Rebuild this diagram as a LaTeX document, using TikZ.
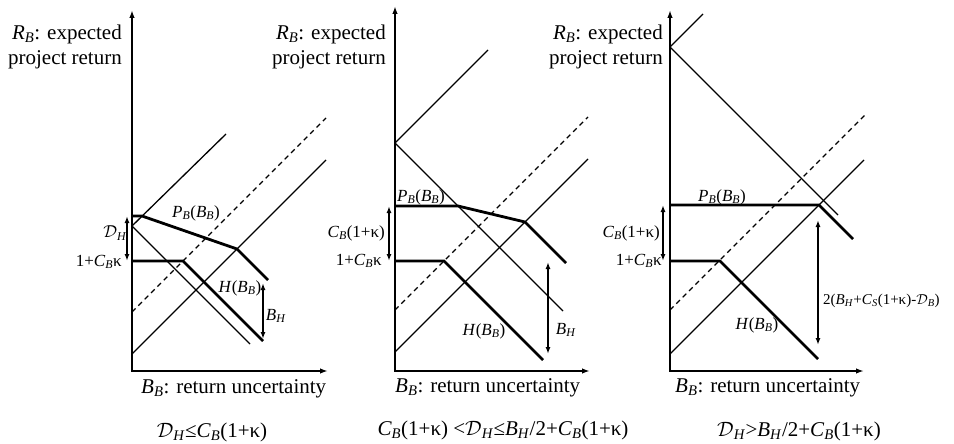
\documentclass[tikz,border=0pt]{standalone}
\usepackage{fontspec}
\setmainfont{Liberation Serif}
\usetikzlibrary{arrows.meta}
\newcommand\ivar[2]{\textit{#1}\textsubscript{\textit{#2}}}
\newcommand\scD{$\mathcal{D}$}
\tikzset{
 axisln/.style={line width=2.2pt,{Latex[length=8pt,width=5.5pt]}-{Latex[length=8pt,width=5.5pt]}},
 thinln/.style={line width=1.3pt},
 dashln/.style={line width=1.3pt,dash pattern=on 5pt off 4pt},
 curveln/.style={line width=2.8pt,line join=miter},
 dimln/.style={line width=1.4pt,{Latex[length=7pt,width=5pt]}-{Latex[length=7pt,width=5pt]}},
 bigtxt/.style={font=\fontsize{21}{25}\selectfont,inner sep=0pt},
 smalltxt/.style={font=\fontsize{17}{19}\selectfont,inner sep=0pt},
}
\begin{document}
\begin{tikzpicture}[x=1pt,y=-1pt]
\useasboundingbox (0,0) rectangle (954,444);
% ---------------- panel 1
\coordinate (o1) at (132,371);
\coordinate (yt1) at (132,10);
\coordinate (xe1) at (328,371);
\draw[axisln] (yt1) -- (o1) -- (xe1);
\coordinate (s1) at (132,226);
\coordinate (ua1) at (226,134);
\coordinate (ud1) at (250,344);
\draw[thinln] (s1) -- (ua1);
\draw[thinln] (s1) -- (ud1);
\coordinate (ds1) at (132,312);
\coordinate (de1) at (326,118);
\draw[dashln] (ds1) -- (de1);
\coordinate (ls1) at (132,354);
\coordinate (le1) at (326,160);
\draw[thinln] (ls1) -- (le1);
\coordinate (p1a) at (132,216);
\coordinate (p1b) at (142,216);
\coordinate (p1c) at (237,249);
\coordinate (p1d) at (268,280);
\draw[curveln] (p1a) -- (p1b) -- (p1c) -- (p1d);
\coordinate (h1a) at (132,261);
\coordinate (h1b) at (183,261);
\coordinate (h1c) at (263,341);
\draw[curveln] (h1a) -- (h1b) -- (h1c);
\coordinate (dh1t) at (127,216);
\coordinate (dh1b) at (127,261);
\draw[dimln] (dh1t) -- (dh1b);
\coordinate (bh1t) at (263,283);
\coordinate (bh1b) at (263,339);
\draw[dimln] (bh1t) -- (bh1b);
\node[bigtxt,align=right,anchor=east] (r1) at (122,47) {\ivar{R}{B}: expected\\project return};
\node[smalltxt,anchor=east] (k1) at (122,262) {1+\ivar{C}{B}κ};
\node[smalltxt] (dl1) at (115,233) {\scD\textsubscript{\textit{H}}};
\node[smalltxt] (pl1) at (196,213) {\ivar{P}{B}(\ivar{B}{B})};
\node[smalltxt] (hl1) at (240,288) {\textit{H}(\ivar{B}{B})};
\node[smalltxt] (bl1) at (276,316) {\ivar{B}{H}};
\node[bigtxt,anchor=west] (xl1) at (141,389) {\ivar{B}{B}: return uncertainty};
\node[bigtxt] (c1) at (212,432) {\scD\textsubscript{\textit{H}}≤\ivar{C}{B}(1+κ)};
% ---------------- panel 2
\coordinate (o2) at (395,371);
\coordinate (yt2) at (395,6);
\coordinate (xe2) at (590,371);
\draw[axisln] (yt2) -- (o2) -- (xe2);
\coordinate (s2) at (395,143);
\coordinate (ua2) at (488,50);
\coordinate (ud2) at (563,311);
\draw[thinln] (s2) -- (ua2);
\draw[thinln] (s2) -- (ud2);
\coordinate (ds2) at (395,310);
\coordinate (de2) at (588,117);
\draw[dashln] (ds2) -- (de2);
\coordinate (ls2) at (395,352);
\coordinate (le2) at (588,159);
\draw[thinln] (ls2) -- (le2);
\coordinate (p2a) at (395,206);
\coordinate (p2b) at (458,206);
\coordinate (p2c) at (525,222);
\coordinate (p2d) at (566,263);
\draw[curveln] (p2a) -- (p2b) -- (p2c) -- (p2d);
\coordinate (h2a) at (395,261);
\coordinate (h2b) at (444,261);
\coordinate (h2c) at (543,360);
\draw[curveln] (h2a) -- (h2b) -- (h2c);
\coordinate (cd2t) at (389,206);
\coordinate (cd2b) at (389,261);
\draw[dimln] (cd2t) -- (cd2b);
\coordinate (bh2t) at (548,262);
\coordinate (bh2b) at (548,354);
\draw[dimln] (bh2t) -- (bh2b);
\node[bigtxt,align=right,anchor=east] (r2) at (386,47) {\ivar{R}{B}: expected\\project return};
\node[smalltxt,anchor=east] (cl2) at (385,233) {\ivar{C}{B}(1+κ)};
\node[smalltxt,anchor=east] (k2) at (382,261) {1+\ivar{C}{B}κ};
\node[smalltxt] (pl2) at (421,197) {\ivar{P}{B}(\ivar{B}{B})};
\node[smalltxt] (hl2) at (484,331) {\textit{H}(\ivar{B}{B})};
\node[smalltxt] (bl2) at (566,330) {\ivar{B}{H}};
\node[bigtxt,anchor=west] (xl2) at (395,388) {\ivar{B}{B}: return uncertainty};
\node[bigtxt] (c2) at (503,430) {\ivar{C}{B}(1+κ) <\scD\textsubscript{\textit{H}}≤\ivar{B}{H}/2+\ivar{C}{B}(1+κ)};
% ---------------- panel 3
\coordinate (o3) at (670,371);
\coordinate (yt3) at (670,10);
\coordinate (xe3) at (864,371);
\draw[axisln] (yt3) -- (o3) -- (xe3);
\coordinate (s3) at (670,47);
\coordinate (ua3) at (703,14);
\coordinate (ud3) at (838,215);
\draw[thinln] (s3) -- (ua3);
\draw[thinln] (s3) -- (ud3);
\coordinate (ds3) at (670,310);
\coordinate (de3) at (866,114);
\draw[dashln] (ds3) -- (de3);
\coordinate (ls3) at (670,354);
\coordinate (le3) at (864,160);
\draw[thinln] (ls3) -- (le3);
\coordinate (p3a) at (670,205);
\coordinate (p3b) at (819,205);
\coordinate (p3c) at (853,239);
\draw[curveln] (p3a) -- (p3b) -- (p3c);
\coordinate (h3a) at (670,261);
\coordinate (h3b) at (720,261);
\coordinate (h3c) at (818,359);
\draw[curveln] (h3a) -- (h3b) -- (h3c);
\coordinate (cd3t) at (663,205);
\coordinate (cd3b) at (663,261);
\draw[dimln] (cd3t) -- (cd3b);
\coordinate (bg3t) at (818,220);
\coordinate (bg3b) at (818,345);
\draw[dimln] (bg3t) -- (bg3b);
\node[bigtxt,align=right,anchor=east] (r3) at (663,47) {\ivar{R}{B}: expected\\project return};
\node[smalltxt,anchor=east] (cl3) at (660,233) {\ivar{C}{B}(1+κ)};
\node[smalltxt,anchor=east] (k3) at (662,261) {1+\ivar{C}{B}κ};
\node[smalltxt] (pl3) at (722,197) {\ivar{P}{B}(\ivar{B}{B})};
\node[smalltxt] (hl3) at (757,325) {\textit{H}(\ivar{B}{B})};
\node[smalltxt,font=\fontsize{15}{17}\selectfont,anchor=west] (bgl3) at (823,301) {2(\ivar{B}{H}+\ivar{C}{S}(1+κ)-\scD\textsubscript{\textit{B}})};
\node[bigtxt,anchor=west] (xl3) at (675,388) {\ivar{B}{B}: return uncertainty};
\node[bigtxt] (c3) at (799,431) {\scD\textsubscript{\textit{H}}>\ivar{B}{H}/2+\ivar{C}{B}(1+κ)};
\end{tikzpicture}
\end{document}
